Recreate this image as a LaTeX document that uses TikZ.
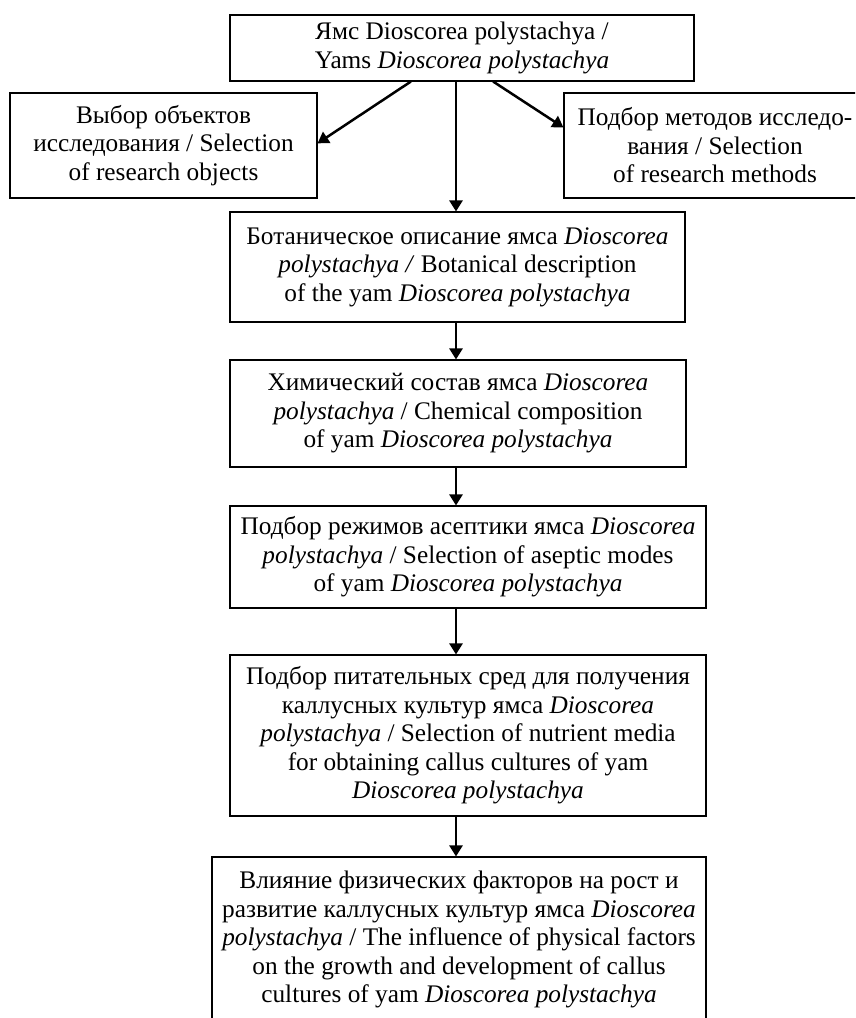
\documentclass[tikz,border=0pt]{standalone}
\usepackage{fontspec}
\setmainfont{Liberation Serif}
\usetikzlibrary{arrows.meta,calc}
\begin{document}
\begin{tikzpicture}[x=1pt,y=-1pt,
  box/.style={draw,line width=1.1pt,inner sep=0pt,align=center,
    font=\fontsize{25.3}{28.5}\selectfont},
  arr/.style={line width=2.5pt,-{Triangle[length=11pt,width=13pt]}}]
\useasboundingbox (0,0) rectangle (855,1018);
\clip (0,0) rectangle (855,1018);
\node[box,minimum width=464pt,minimum height=66pt] (top) at (462,48)
  {Ямс Dioscorea polystachya /\\Yams \textit{Dioscorea polystachya}};
\node[box,minimum width=307pt,minimum height=105pt] (left) at (163.5,145.5)
  {Выбор объектов\\исследования / Selection\\of research objects};
\node[box,minimum width=302pt,minimum height=105pt] (right) at (715,145.5)
  {Подбор методов исследо-\\вания / Selection\\of research methods};
\node[box,minimum width=455pt,minimum height=110pt] (bot) at (457.5,267)
  {Ботаническое описание ямса \textit{Dioscorea}\\\textit{polystachya /} Botanical description\\of the yam \textit{Dioscorea polystachya}};
\node[box,minimum width=456pt,minimum height=107pt] (chem) at (458,413.5)
  {Химический состав ямса \textit{Dioscorea}\\\textit{polystachya} / Chemical composition\\of yam \textit{Dioscorea polystachya}};
\node[box,minimum width=476pt,minimum height=102pt] (asep) at (468,557)
  {Подбор режимов асептики ямса \textit{Dioscorea}\\\textit{polystachya} / Selection of aseptic modes\\of yam \textit{Dioscorea polystachya}};
\node[box,minimum width=476pt,minimum height=161pt] (nutr) at (468,735.5)
  {Подбор питательных сред для получения\\каллусных культур ямса \textit{Dioscorea}\\\textit{polystachya} / Selection of nutrient media\\for obtaining callus cultures of yam\\\textit{Dioscorea polystachya}};
\node[box,minimum width=494pt,minimum height=165pt] (phys) at (459,939.5)
  {Влияние физических факторов на рост и\\развитие каллусных культур ямса \textit{Dioscorea}\\\textit{polystachya} / The influence of physical factors\\on the growth and development of callus\\cultures of yam \textit{Dioscorea polystachya}};
\coordinate (cx) at (456,0);
\draw[arr] ($(top.south west)!0.39!(top.south east)$) -- ($(left.north east)!0.48!(left.south east)$);
\draw[arr] ($(top.south west)!0.567!(top.south east)$) -- ($(right.north west)!0.33!(right.south west)$);
\draw[arr] (top.south -| cx) -- (bot.north -| cx);
\draw[arr] (bot.south -| cx) -- (chem.north -| cx);
\draw[arr] (chem.south -| cx) -- (asep.north -| cx);
\draw[arr] (asep.south -| cx) -- (nutr.north -| cx);
\draw[arr] (nutr.south -| cx) -- (phys.north -| cx);
\end{tikzpicture}
\end{document}
